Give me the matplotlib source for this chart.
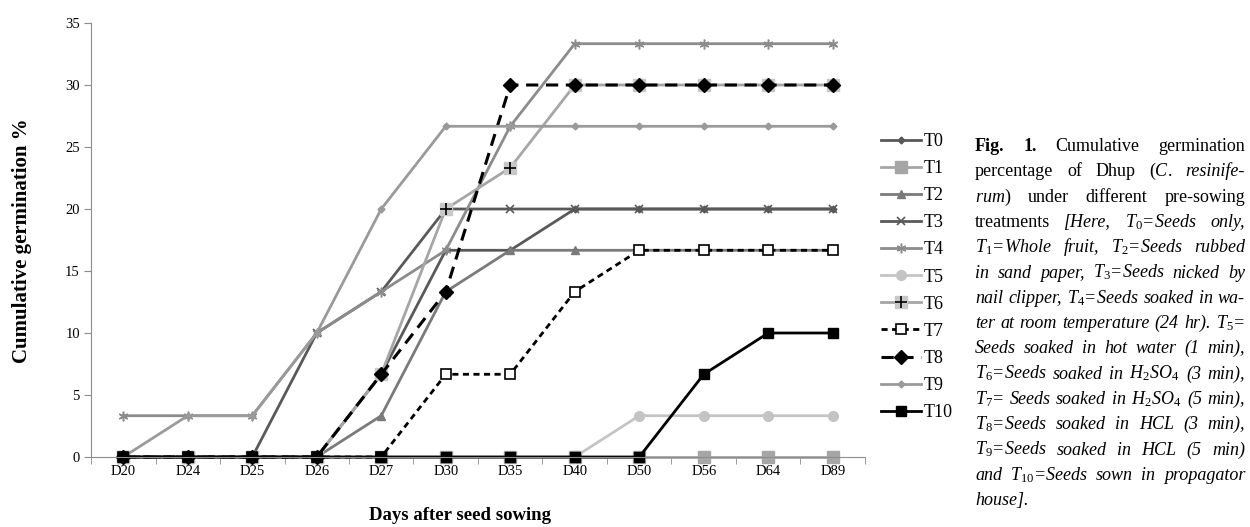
import matplotlib

matplotlib.use("Agg")
import matplotlib.pyplot as plt

plt.rcParams["font.family"] = ["Liberation Serif", "DejaVu Serif"]
plt.rcParams["mathtext.fontset"] = "custom"
plt.rcParams["mathtext.rm"] = "Liberation Serif"
plt.rcParams["mathtext.it"] = "Liberation Serif:italic"
plt.rcParams["mathtext.bf"] = "Liberation Serif:bold"

# --- данные
days = ["D20", "D24", "D25", "D26", "D27", "D30", "D35", "D40", "D50", "D56", "D64", "D89"]
T0 = [0, 0, 0, 0, 6.67, 16.67, 16.67, 20, 20, 20, 20, 20]
T1 = [0, 0, 0, 0, 0, 0, 0, 0, 0, 0, 0, 0]
T2 = [0, 0, 0, 0, 3.33, 13.33, 16.67, 16.67, 16.67, 16.67, 16.67, 16.67]
T3 = [0, 0, 0, 10, 13.33, 20, 20, 20, 20, 20, 20, 20]
T4 = [3.33, 3.33, 3.33, 10, 13.33, 16.67, 26.67, 33.33, 33.33, 33.33, 33.33, 33.33]
T5 = [0, 0, 0, 0, 0, 0, 0, 0, 3.33, 3.33, 3.33, 3.33]
T6 = [0, 0, 0, 0, 6.67, 20, 23.33, 30, 30, 30, 30, 30]
T7 = [0, 0, 0, 0, 0, 6.67, 6.67, 13.33, 16.67, 16.67, 16.67, 16.67]
T8 = [0, 0, 0, 0, 6.67, 13.33, 30, 30, 30, 30, 30, 30]
T9 = [0, 3.33, 3.33, 10, 20, 26.67, 26.67, 26.67, 26.67, 26.67, 26.67, 26.67]
T10 = [0, 0, 0, 0, 0, 0, 0, 0, 0, 6.67, 10, 10]
yticks = [0, 5, 10, 15, 20, 25, 30, 35]

W, H = 1250, 527
fig = plt.figure(figsize=(W / 100, H / 100), dpi=100)
ax = fig.add_axes([91 / W, 1 - 457 / H, 774 / W, 434 / H])
x = list(range(len(days)))

styles = [
    ("T0", T0, dict(color="#595959", marker="D", ms=3.5)),
    ("T1", T1, dict(color="#a6a6a6", marker="s", ms=8)),
    ("T2", T2, dict(color="#7a7a7a", marker="^", ms=6)),
    ("T3", T3, dict(color="#595959", marker="x", ms=6, mew=1.2)),
    ("T4", T4, dict(color="#8c8c8c", marker=(6, 2, 0), ms=7, mew=1.1)),
    ("T5", T5, dict(color="#c4c4c4", marker="o", ms=7)),
]
handles = []
for name, ys, kw in styles:
    (ln,) = ax.plot(x, ys, lw=2, label=name, clip_on=False, **kw)
    handles.append(ln)

# T6: серый квадрат с чёрным плюсом
(l6a,) = ax.plot(x, T6, color="#a6a6a6", lw=2, marker="s", ms=9,
                 mfc="#c8c8c8", mec="#c8c8c8", clip_on=False)
(l6b,) = ax.plot(x, T6, ls="none", marker="+", ms=9, mew=1.2, color="black", clip_on=False)
handles.append((l6a, l6b))

(l7,) = ax.plot(x, T7, color="black", lw=2, ls=(0, (2.2, 1.6)), marker="s", ms=7,
                mfc="white", mec="black", mew=1.2, clip_on=False)
(l8,) = ax.plot(x, T8, color="black", lw=2.2, ls=(0, (4, 2.5)), marker="D", ms=7,
                clip_on=False)
(l9,) = ax.plot(x, T9, color="#9a9a9a", lw=2, marker="D", ms=3.5, clip_on=False)
(l10,) = ax.plot(x, T10, color="black", lw=2, marker="s", ms=7, clip_on=False)
handles += [l7, l8, l9, l10]
labels = ["T%d" % i for i in range(11)]

ax.set_xlim(-0.5, len(days) - 0.5)
ax.set_ylim(0, 35)
ax.set_yticks(yticks)
ax.set_xticks(x, days)
ax.set_xticks([i - 0.5 for i in range(len(days) + 1)], minor=True)
ax.tick_params(axis="x", which="major", length=0, pad=6, labelsize=10.5)
ax.tick_params(axis="x", which="minor", length=5, color="#8c8c8c")
ax.tick_params(axis="y", length=5, color="#8c8c8c", pad=3, labelsize=10.5)
for s in ("top", "right"):
    ax.spines[s].set_visible(False)
for s in ("left", "bottom"):
    ax.spines[s].set_color("#8c8c8c")

fig.text(22 / W, 1 - 241 / H, "Cumulative germination %", rotation=90,
         ha="center", va="center", fontsize=15, fontweight="bold")
fig.text(460 / W, 1 - 515 / H, "Days after seed sowing",
         ha="center", va="center", fontsize=13.5, fontweight="bold")

fig.legend(handles, labels, loc="upper left", bbox_to_anchor=(881 / W, 1 - 133 / H),
           frameon=False, fontsize=13, handlelength=2.2, handletextpad=0.15,
           labelspacing=0.56, borderaxespad=0, borderpad=0, numpoints=1)

# --- подпись рисунка, выровненная по ширине
caption = [
    [("Fig.", "b"), ("1.", "b"), ("Cumulative", "n"), ("germination", "n")],
    [("percentage", "n"), ("of", "n"), ("Dhup", "n"), (r"($\mathit{C.}$", "n"),
     ("resinife-", "i")],
    [(r"$\mathit{rum}$)", "n"), ("under", "n"), ("different", "n"), ("pre-sowing", "n")],
    [("treatments", "n"), ("[Here,", "i"), (r"T$_\mathit{0}$=Seeds", "i"), ("only,", "i")],
    [(r"T$_\mathit{1}$=Whole", "i"), ("fruit,", "i"), (r"T$_\mathit{2}$=Seeds", "i"),
     ("rubbed", "i")],
    [("in", "i"), ("sand", "i"), ("paper,", "i"), (r"T$_\mathit{3}$=Seeds", "i"),
     ("nicked", "i"), ("by", "i")],
    [("nail", "i"), ("clipper,", "i"), (r"T$_\mathit{4}$=Seeds", "i"), ("soaked", "i"),
     ("in", "i"), ("wa-", "i")],
    [("ter", "i"), ("at", "i"), ("room", "i"), ("temperature", "i"), ("(24", "i"),
     ("hr).", "i"), (r"T$_\mathit{5}$=", "i")],
    [("Seeds", "i"), ("soaked", "i"), ("in", "i"), ("hot", "i"), ("water", "i"),
     ("(1", "i"), ("min),", "i")],
    [(r"T$_\mathit{6}$=Seeds", "i"), ("soaked", "i"), ("in", "i"),
     (r"H$_\mathit{2}$SO$_\mathit{4}$", "i"), ("(3", "i"), ("min),", "i")],
    [(r"T$_\mathit{7}$=", "i"), ("Seeds", "i"), ("soaked", "i"), ("in", "i"),
     (r"H$_\mathit{2}$SO$_\mathit{4}$", "i"), ("(5", "i"), ("min),", "i")],
    [(r"T$_\mathit{8}$=Seeds", "i"), ("soaked", "i"), ("in", "i"), ("HCL", "i"),
     ("(3", "i"), ("min),", "i")],
    [(r"T$_\mathit{9}$=Seeds", "i"), ("soaked", "i"), ("in", "i"), ("HCL", "i"),
     ("(5", "i"), ("min)", "i")],
    [("and", "i"), (r"T$_\mathit{10}$=Seeds", "i"), ("sown", "i"), ("in", "i"),
     ("propagator", "i")],
    [("house].", "i")],
]
cap_left, cap_right = 975, 1245
base0, step = 151, 25.3
fig.canvas.draw()
renderer = fig.canvas.get_renderer()
for i, words in enumerate(caption):
    yb = 1 - (base0 + i * step) / H
    texts = []
    for w, st in words:
        t = fig.text(0, yb, w, fontsize=13, va="baseline", ha="left",
                     fontweight="bold" if st == "b" else "normal",
                     fontstyle="italic" if st == "i" else "normal")
        texts.append(t)
    widths = [t.get_window_extent(renderer).width for t in texts]
    if i < len(caption) - 1 and len(texts) > 1:
        gap = max(3, (cap_right - cap_left - sum(widths)) / (len(texts) - 1))
    else:
        gap = 4
    xpos = cap_left
    for t, wd in zip(texts, widths):
        t.set_x(xpos / W)
        xpos += wd + gap

fig.savefig("out.png", dpi=100)
